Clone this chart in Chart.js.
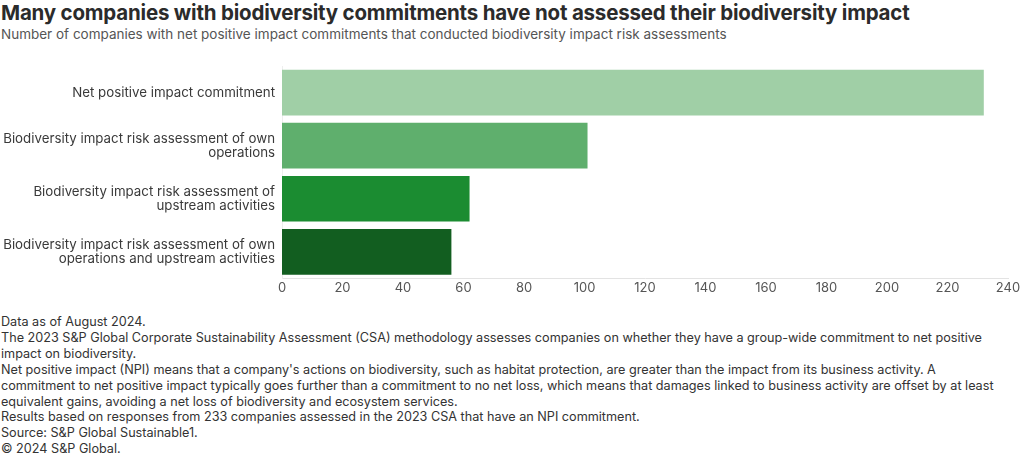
<!DOCTYPE html>
<html>
<head>
<meta charset="utf-8">
<script src="https://cdn.jsdelivr.net/npm/chart.js@4/dist/chart.umd.min.js"></script>
<style>
  html, body { margin: 0; padding: 0; background: #fff; overflow: hidden; }
  body { width: 1020px; height: 458px; position: relative; font-family: Inter, "Noto Sans", sans-serif; }
  #title { position: absolute; left: 1px; top: 0px; font-size: 20.5px; font-weight: 700; color: #2b2b2b; white-space: nowrap; letter-spacing: -0.2px; }
  #subtitle { position: absolute; left: 1px; top: 26px; font-size: 13.5px; font-weight: 400; color: #555; white-space: nowrap; }
  #wrap { position: absolute; left: 0; top: 56px; width: 1034px; height: 242px; }
  #notes { position: absolute; left: 1px; top: 314px; font-size: 12.65px; line-height: 15.9px; color: #333; white-space: nowrap; }
</style>
</head>
<body>
<div id="title">Many companies with biodiversity commitments have not assessed their biodiversity impact</div>
<div id="subtitle">Number of companies with net positive impact commitments that conducted biodiversity impact risk assessments</div>
<div id="wrap"><canvas id="c"></canvas></div>
<div id="notes">Data as of August 2024.<br>The 2023 S&amp;P Global Corporate Sustainability Assessment (CSA) methodology assesses companies on whether they have a group-wide commitment to net positive<br>impact on biodiversity.<br>Net positive impact (NPI) means that a company's actions on biodiversity, such as habitat protection, are greater than the impact from its business activity. A<br>commitment to net positive impact typically goes further than a commitment to no net loss, which means that damages linked to business activity are offset by at least<br>equivalent gains, avoiding a net loss of biodiversity and ecosystem services.<br>Results based on responses from 233 companies assessed in the 2023 CSA that have an NPI commitment.<br>Source: S&amp;P Global Sustainable1.<br>© 2024 S&amp;P Global.</div>
<script>
const categories = [
  "Net positive impact commitment",
  ["Biodiversity impact risk assessment of own", "operations"],
  ["Biodiversity impact risk assessment of", "upstream activities"],
  ["Biodiversity impact risk assessment of own", "operations and upstream activities"]
];
const companyCounts = [232, 101, 62, 56];
const barColors = ["#a0cfa6", "#5faf6d", "#1b8c31", "#125e20"];
const xTickValues = [0, 20, 40, 60, 80, 100, 120, 140, 160, 180, 200, 220, 240];

new Chart(document.getElementById('c'), {
  type: 'bar',
  data: {
    labels: categories,
    datasets: [{
      data: companyCounts,
      backgroundColor: barColors,
      borderWidth: 0,
      categoryPercentage: 1,
      barPercentage: 0.86
    }]
  },
  options: {
    indexAxis: 'y',
    responsive: true,
    maintainAspectRatio: false,
    animation: false,
    layout: { padding: { top: 10, right: 26, left: 0, bottom: 0 } },
    plugins: { legend: { display: false }, tooltip: { enabled: false } },
    scales: {
      x: {
        min: 0, max: 240,
        afterBuildTicks: (s) => { s.ticks = xTickValues.map(v => ({ value: v })); },
        afterFit: (s) => { s.paddingRight = 0; s.paddingLeft = 0; },
        grid: { display: false, drawTicks: false },
        border: { display: true, color: '#e3e3e3', width: 1 },
        ticks: { color: '#555', font: { family: 'Inter', size: 13 }, padding: 2 }
      },
      y: {
        afterFit: (s) => { s.width = 282; s.paddingTop = 0; s.paddingBottom = 0; },
        grid: { display: false, drawTicks: false },
        border: { display: true, color: '#eeeeee', width: 1 },
        ticks: { color: '#3a3a3a', font: { family: 'Inter', size: 13.3, lineHeight: 1.05 }, padding: 7 }
      }
    }
  }
});
</script>
</body>
</html>
